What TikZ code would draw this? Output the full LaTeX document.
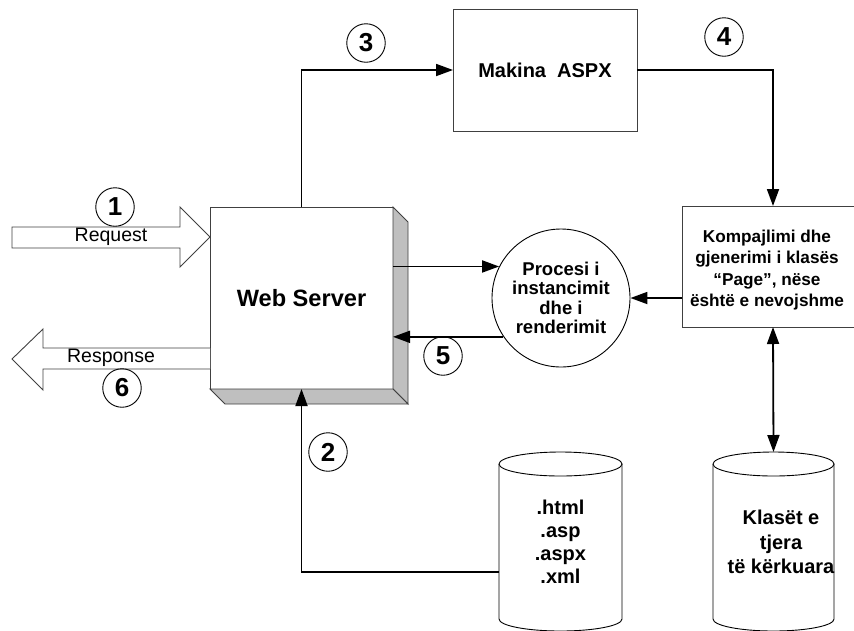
\documentclass[tikz,border=0pt]{standalone}
\usepackage{fontspec}
\setmainfont{Liberation Sans}
\usetikzlibrary{arrows.meta}
\begin{document}
\begin{tikzpicture}[x=1pt,y=-1pt,
  box/.style={draw=black!75, line width=0.9pt, fill=white, inner sep=0pt, outer sep=0pt},
  sideface/.style={draw=black!75, line width=0.9pt, fill=black!25},
  flow/.style={line width=1.8pt, -{Triangle[length=17pt,width=12pt]}},
  twoway/.style={line width=1.8pt, {Triangle[length=17pt,width=12pt]}-{Triangle[length=17pt,width=12pt]}},
  stepnum/.style={circle, draw, line width=0.9pt, minimum size=38.5pt, inner sep=0pt,
    font=\fontsize{26}{26}\selectfont\bfseries},
  blockarrow/.style={draw=black!75, line width=0.9pt, fill=white},
  cyl/.style={draw=black, line width=0.9pt, fill=white},
  plain/.style={inner sep=0pt, align=center}
]
\useasboundingbox (0,0) rectangle (854,630);
\clip (0,0) rectangle (854,630);

% Web server block with its shaded depth faces
\node[box, minimum width=183, minimum height=182] (ws) at (301.5,298) {};
\draw[sideface] (ws.north east) -- ++(15,15) -- ++(0,182) -- (ws.south east) -- cycle;
\draw[sideface] (ws.south west) -- ++(15,15) -- ++(183,0) -- (ws.south east) -- cycle;
\node[plain, font=\fontsize{23.6}{26}\selectfont\bfseries] (wslabel) at (ws.center) {Web Server};

% Upper engine box
\node[box, minimum width=184, minimum height=122,
      font=\fontsize{20}{22}\selectfont\bfseries] (mak) at (545,70) {Makina\ \ ASPX};

% Compilation box (runs past the right border)
\node[box, minimum width=182, minimum height=121] (comp) at (773,266.5) {};
\node[plain, font=\fontsize{17.2}{21.5}\selectfont\bfseries] (comptext) at (767,270)
  {Kompajlimi dhe\\gjenerimi i klasës\\“Page”, nëse\\është e nevojshme};

% Instancing / rendering process
\node[circle, draw=black, line width=0.9pt, fill=white, minimum size=138pt, inner sep=0pt,
      align=center, font=\fontsize{18.5}{19.5}\selectfont\bfseries] (proc) at (561,298)
  {Procesi i\\instancimit\\dhe i\\renderimit};

% File stores
\filldraw[cyl] (499,464) -- (499,619) arc[start angle=180, end angle=0, x radius=61.5, y radius=12] -- (622,464);
\draw[cyl] (560.5,464) ellipse [x radius=61.5, y radius=12];
\node[plain, font=\fontsize{20}{23}\selectfont\bfseries] (files) at (560.5,541.5)
  {.html\\.asp\\.aspx\\.xml};
\coordinate (filesw) at (499,572);

\filldraw[cyl] (713,464) -- (713,619) arc[start angle=180, end angle=0, x radius=60.5, y radius=12] -- (834,464);
\draw[cyl] (773.5,464) ellipse [x radius=60.5, y radius=12];
\node[plain, font=\fontsize{20}{24.5}\selectfont\bfseries] (classes) at (781,542)
  {Klasët e\\tjera\\të kërkuara};
\coordinate (classesn) at (773.5,452);

% Request / response block arrows
\draw[blockarrow] (12,227) -- (180,227) -- (180,207) -- (210,237) -- (180,267) -- (180,248) -- (12,248) -- cycle;
\node[plain, font=\fontsize{19.5}{20}\selectfont] (req) at (111,237) {Request};
\draw[blockarrow] (210,348) -- (43,348) -- (43,329) -- (12,359) -- (43,390) -- (43,369) -- (210,369);
\node[plain, font=\fontsize{19.5}{20}\selectfont] (resp) at (111,358) {Response};

% Flow connectors
\draw[flow] (ws.north) |- (mak.west);
\draw[flow] (mak.east) -| (comp.north);
\draw[flow] (comp.west |- proc.east) -- (proc.east);
\draw[flow] (ws.east |- proc.153.3) -- (proc.153.3);
\draw[flow] (proc.214.4) -- (ws.east |- proc.214.4);
\draw[flow] (filesw) -| (ws.south);
\draw[twoway] (comp.south) -- (classesn);

% Step numbers
\node[stepnum] (n1) at (115,207) {1};
\node[stepnum] (n2) at (328,452) {2};
\node[stepnum] (n3) at (366,43) {3};
\node[stepnum] (n4) at (724,37) {4};
\node[stepnum] (n5) at (443,356) {5};
\node[stepnum] (n6) at (122,388) {6};
\end{tikzpicture}
\end{document}
